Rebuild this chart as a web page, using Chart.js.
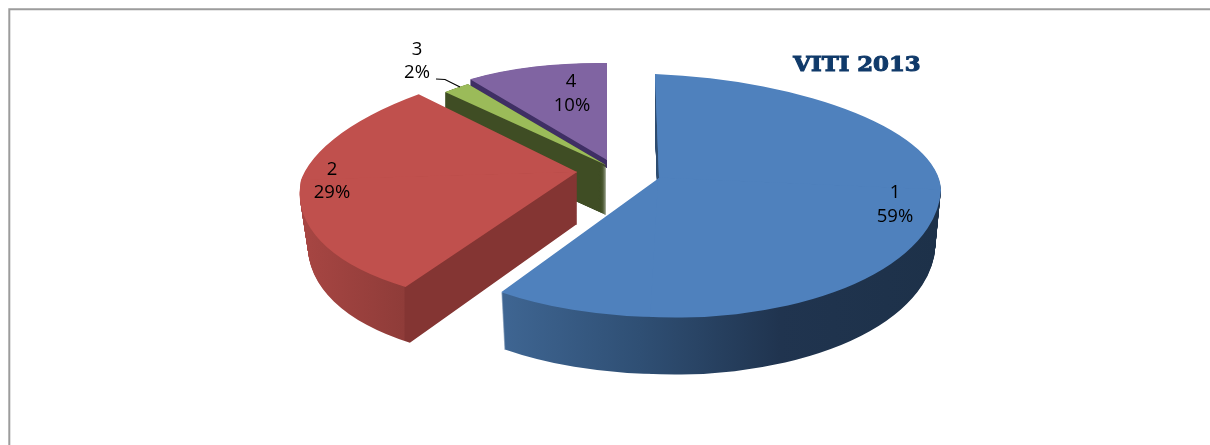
<!DOCTYPE html>
<html><head><meta charset="utf-8">
<style>html,body{margin:0;padding:0;background:#fff}#w{position:relative;width:1210px;height:445px;overflow:hidden}canvas{display:block}</style>
</head><body><div id="w"><canvas id="c" width="1210" height="445"></canvas></div>
<script src="https://cdn.jsdelivr.net/npm/chart.js@4"></script>
<script>
const categories = ['1','2','3','4'];
const values = [59,29,2,10];
const percentLabels = ['59%','29%','2%','10%'];
const topColors = ['#4f81bd','#c0504d','#9bbb59','#8064a2'];
const chartTitle = 'VITI 2013';

// look of the tilted, exploded slices
const looks = [
 {ax:659,ay:178,rx:282,ryT:104,ryB:139,sT:4,sB:-8,tL:6,tR:12,depth:57,shX:.02,shY:0,step:1,
  wall:[[499,'#3f6693'],[640,'#2f4f74'],[780,'#20344f'],[940,'#1d3149']]},
 {ax:577,ay:172,rx:276,ryT:114,ryB:131,sT:-42,sB:-28,tL:-8,tR:-8,depth:52,shX:.03,shY:.035,step:1,
  wall:[[299,'#a84643'],[404,'#8f3c39'],[405,'#843533'],[580,'#843533']]},
 {ax:606,ay:165,rx:235,ryT:100,ryB:100,sT:0,sB:0,tL:0,tR:0,depth:50,shX:0,shY:0,step:.2,
  wall:[[300,'#3f4d24'],[610,'#3f4d24']]},
 {ax:607,ay:160,rx:233,ryT:97,ryB:97,sT:0,sB:0,tL:4,tR:4,depth:8,shX:0,shY:0,step:.5,
  wall:[[300,'#3f2f64'],[610,'#3f2f64']]}
];
const labelSpots = [[895,193,895,217],[332,170,332,193],[417,50,417,73],[571,82,572,106]];
const drawOrder = [3,2,1,0];

function paint(ctx, arc, L, frac, top){
  const R = arc.outerRadius, cx = arc.x, cy = arc.y;
  const rx = L.rx*(1-frac*L.shX);
  const ryT = L.ryT*(1+frac*L.shY), ryB = L.ryB*(1+frac*L.shY);
  for (const lower of [0,1]) for (const right of [0,1]) {
    const ry = lower ? ryB : ryT, s = lower ? L.sB : L.sT, t = right ? L.tR : L.tL;
    const a = rx/R, b = t/R, c = s/R, d = ry/R;
    const e = L.ax - a*cx - c*cy, f = L.ay + frac*L.depth - b*cx - d*cy;
    ctx.save();
    ctx.setTransform(a,b,c,d,e,f);
    ctx.beginPath();
    ctx.rect(right ? cx-0.6 : cx-2000, lower ? cy-0.6 : cy-2000, 2000.6, 2000.6);
    ctx.clip();
    let fill = top;
    if (!fill) {
      const k0 = R/(rx*rx+s*s);
      const x0 = L.wall[0][0], x1 = L.wall[L.wall.length-1][0];
      const k = x => (x-L.ax)*k0;
      const g = ctx.createLinearGradient(cx+k(x0)*rx,cy+k(x0)*s,cx+k(x1)*rx,cy+k(x1)*s);
      for (const [x,col] of L.wall) g.addColorStop((x-x0)/(x1-x0),col);
      fill = g;
    }
    const orig = arc.options;
    arc.options = Object.assign({},orig,{backgroundColor:fill,borderWidth:0});
    arc.draw(ctx);
    arc.options = orig;
    ctx.restore();
  }
}

const tiltPlugin = {
  id:'tilt',
  beforeDatasetsDraw(chart){
    const ctx = chart.ctx, arcs = chart.getDatasetMeta(0).data;
    for (const i of drawOrder) {
      const L = looks[i];
      for (let y = L.depth; y > 0; y -= L.step) paint(ctx, arcs[i], L, y/L.depth, null);
      paint(ctx, arcs[i], L, 0, topColors[i]);
    }
    return false;
  },
  afterDraw(chart){
    const ctx = chart.ctx;
    ctx.save();
    ctx.setTransform(1,0,0,1,0,0);
    ctx.strokeStyle = '#9c9c9c'; ctx.lineWidth = 2;
    ctx.beginPath(); ctx.moveTo(9.3,446); ctx.lineTo(9.3,9.3); ctx.lineTo(1211,9.3); ctx.stroke();
    ctx.strokeStyle = '#000'; ctx.lineWidth = 1.2;
    ctx.beginPath(); ctx.moveTo(436,79); ctx.lineTo(445,79.5); ctx.lineTo(460,87); ctx.stroke();
    ctx.fillStyle = '#000'; ctx.textAlign = 'center'; ctx.textBaseline = 'middle';
    ctx.font = '18.5px "Open Sans"';
    categories.forEach((cat,i)=>{
      const p = labelSpots[i];
      ctx.fillText(cat,p[0],p[1]);
      ctx.fillText(percentLabels[i],p[2],p[3]);
    });
    ctx.fillStyle = '#103a6a'; ctx.strokeStyle = '#103a6a'; ctx.lineWidth = 1;
    ctx.font = 'bold 20px "DejaVu Serif"';
    ctx.translate(857,66); ctx.scale(1.14,1);
    ctx.fillText(chartTitle,0,0); ctx.strokeText(chartTitle,0,0);
    ctx.restore();
  }
};

new Chart(document.getElementById('c'),{
  type:'pie',
  data:{labels:categories,datasets:[{data:values,backgroundColor:topColors,borderWidth:0}]},
  options:{responsive:false,animation:false,layout:{padding:0},
    plugins:{legend:{display:false},tooltip:{enabled:false},title:{display:false}}},
  plugins:[tiltPlugin]
});
</script></body></html>
